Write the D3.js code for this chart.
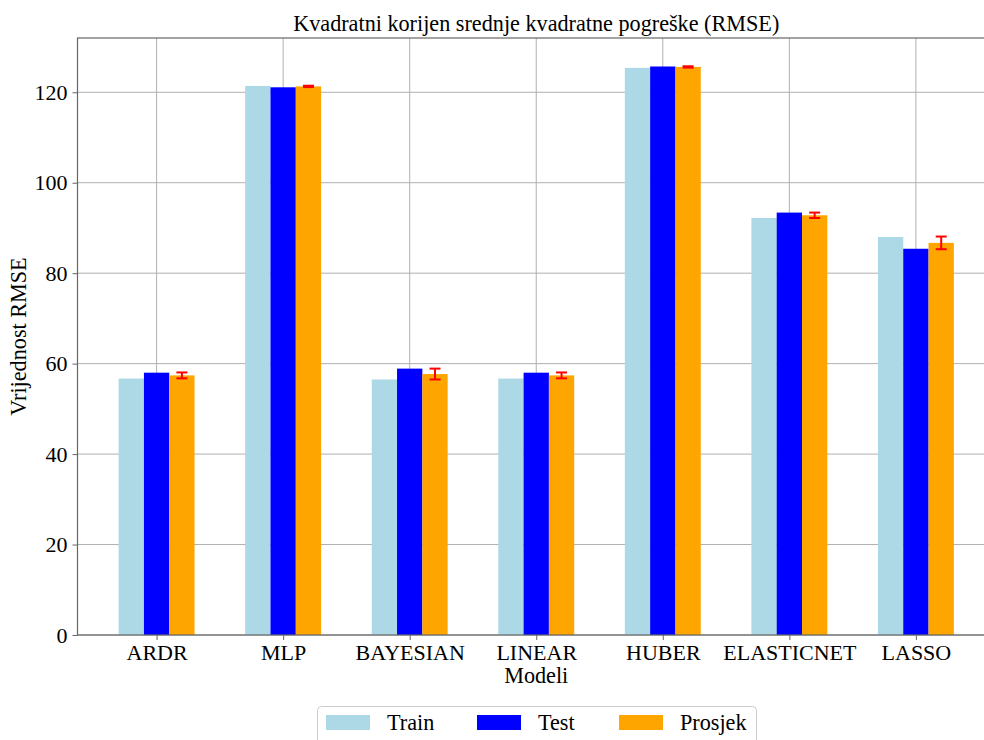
<!DOCTYPE html>
<html><head><meta charset="utf-8">
<script src="https://cdn.jsdelivr.net/npm/d3@7"></script>
<style>body{margin:0;background:#fff;overflow:hidden}svg{display:block}text{font-family:"Liberation Serif","Times New Roman",serif;fill:#000}</style>
</head><body>
<svg id="c" width="984" height="740"></svg>
<script>
const categories = ["ARDR","MLP","BAYESIAN","LINEAR","HUBER","ELASTICNET","LASSO"];
const trainValues = [56.7,121.4,56.5,56.7,125.4,92.2,88.0];
const testValues = [58.0,121.1,58.9,58.0,125.7,93.4,85.4];
const avgValues = [57.4,121.3,57.7,57.4,125.6,92.8,86.7];
const avgErrors = [0.65,0.15,1.2,0.65,0.15,0.6,1.4];
const seriesNames = ["Train","Test","Prosjek"];
const seriesColors = ["#add8e6","#0000ff","#ffa500"];
const yTicks = [0,20,40,60,80,100,120];

const svg = d3.select("#c");
const L = 77.5, T = 38, B = 635, U = 126.55;
const x = d3.scaleLinear().domain([-0.625, 6.625]).range([L, L + 7.25*U]);
const y = d3.scaleLinear().domain([0, 132]).range([B, T]);
const R = x(6.625);
const bw = 0.2;

// grid
const g = svg.append("g");
g.selectAll(".gy").data(yTicks).enter().append("line")
  .attr("x1", L).attr("x2", R).attr("y1", d=>y(d)).attr("y2", d=>y(d))
  .attr("stroke", "#b0b0b0").attr("stroke-width", 1);
g.selectAll(".gx").data(categories).enter().append("line")
  .attr("x1", (d,i)=>x(i)).attr("x2", (d,i)=>x(i)).attr("y1", T).attr("y2", B)
  .attr("stroke", "#b0b0b0").attr("stroke-width", 1);

const series = [trainValues, testValues, avgValues];
series.forEach((vals, s) => {
  svg.append("g").selectAll("rect").data(vals).enter().append("rect")
    .attr("x", (d,i)=>x(i + (s-1)*bw - bw/2))
    .attr("width", x(bw) - x(0))
    .attr("y", d=>y(d)).attr("height", d=>B - y(d))
    .attr("fill", seriesColors[s]);
});

// error bars
const eg = svg.append("g").attr("stroke", "#ff0000").attr("stroke-width", 2);
avgValues.forEach((v, i) => {
  const cx = x(i + bw);
  const e = avgErrors[i];
  eg.append("line").attr("x1", cx).attr("x2", cx).attr("y1", y(v+e)).attr("y2", y(v-e));
  eg.append("line").attr("x1", cx-5.5).attr("x2", cx+5.5).attr("y1", y(v+e)).attr("y2", y(v+e));
  eg.append("line").attr("x1", cx-5.5).attr("x2", cx+5.5).attr("y1", y(v-e)).attr("y2", y(v-e));
});

// frame
svg.append("rect").attr("x", L).attr("y", T).attr("width", R-L).attr("height", B-T)
  .attr("fill", "none").attr("stroke", "#666").attr("stroke-width", 1.2);

// axes
const fs = "22px", fl = "22.2px";
const ya = svg.append("g").attr("transform", `translate(${L},0)`)
  .call(d3.axisLeft(y).tickValues(yTicks).tickSize(5).tickPadding(5).tickFormat(d3.format("d")));
ya.select(".domain").remove();
ya.selectAll("line").attr("stroke", "#666");
ya.selectAll("text").style("font-size", fs).style("font-family", '"Liberation Serif",serif');

const xa = svg.append("g").attr("transform", `translate(0,${B})`)
  .call(d3.axisBottom(x).tickValues(d3.range(categories.length)).tickSize(5).tickPadding(4).tickFormat(i=>categories[i]));
xa.select(".domain").remove();
xa.selectAll("line").attr("stroke", "#666");
xa.selectAll("text").style("font-size", fs).style("font-family", '"Liberation Serif",serif');

// title and labels
svg.append("text").attr("x", x(3)).attr("y", 31).attr("text-anchor","middle")
  .style("font-size", fl).text("Kvadratni korijen srednje kvadratne pogreške (RMSE)");
svg.append("text").attr("x", x(3)).attr("y", 683).attr("text-anchor","middle")
  .style("font-size", fl).text("Modeli");
svg.append("text").attr("transform", `translate(26,${(T+B)/2}) rotate(-90)`).attr("text-anchor","middle")
  .style("font-size", fl).text("Vrijednost RMSE");

// legend
const lg = svg.append("g");
lg.append("rect").attr("x", 317.5).attr("y", 706.5).attr("width", 439).attr("height", 50).attr("rx", 4)
  .attr("fill", "#fff").attr("stroke", "#cccccc").attr("stroke-width", 1);
const lx = [326, 477, 619];
seriesNames.forEach((n, i) => {
  lg.append("rect").attr("x", lx[i]).attr("y", 715).attr("width", 44).attr("height", 15).attr("fill", seriesColors[i]);
  lg.append("text").attr("x", lx[i] + 61).attr("y", 730).style("font-size", fl).text(n);
});
</script>
</body></html>
